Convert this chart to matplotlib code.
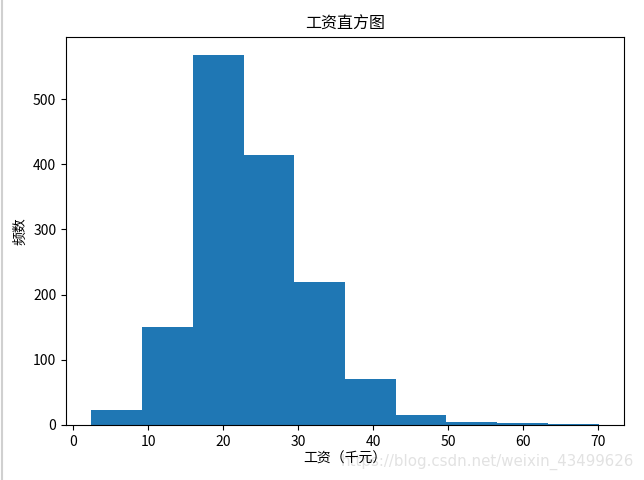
import matplotlib

matplotlib.use("Agg")
import matplotlib.pyplot as plt
import numpy as np
from matplotlib.lines import Line2D

plt.rcParams["font.family"] = ["Noto Sans CJK SC", "DejaVu Sans"]
plt.rcParams["axes.unicode_minus"] = False

# histogram: 10 equal bins between min and max salary
bin_edges = np.linspace(2.39, 70.1, 11)
counts = [23, 150, 567, 414, 219, 70, 15, 5, 3, 1]

title = "工资直方图"
x_label = "工资（千元）"
y_label = "频数"
watermark = "https://blog.csdn.net/weixin_43499626"


def main() -> None:
    fig = plt.figure(figsize=(6.44, 4.8), dpi=100)
    ax = fig.add_axes([66 / 644, 1 - 425 / 480, (624 - 66) / 644, (425 - 37) / 480])

    ax.hist(bin_edges[:-1], bins=bin_edges, weights=counts, color="#1f77b4")
    ax.set_xticks(np.arange(0, 80, 10))
    ax.set_title(title, fontsize=11.5)
    ax.set_xlabel(x_label, fontsize=10, labelpad=2)
    ax.set_ylabel(y_label, fontsize=10)

    # screenshot frame line and site watermark (drawn beneath the axes texts)
    fig.add_artist(Line2D([2 / 644, 2 / 644], [0, 1], color="#d0d0d0", lw=1.5))
    fig.text(634 / 644, 1 - 462 / 480, watermark, ha="right", va="center",
             fontsize=10.8, color="#e2e2e2", family="DejaVu Sans", zorder=-1)

    fig.savefig("out.png", dpi=100, facecolor="white")
    plt.close(fig)


if __name__ == "__main__":
    main()
